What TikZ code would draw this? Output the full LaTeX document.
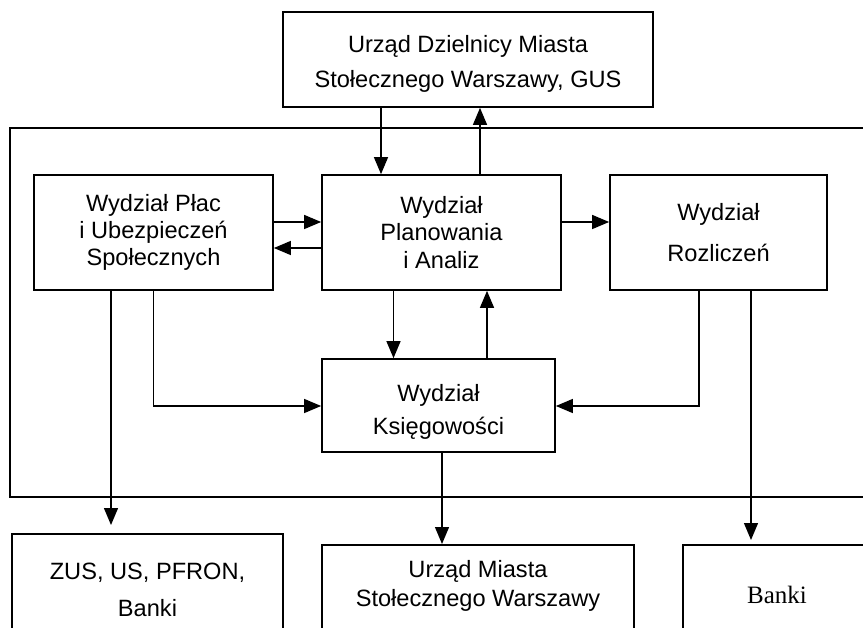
\documentclass[tikz,border=0pt]{standalone}
\usepackage{fontspec}
\setmainfont{Liberation Sans}
\newfontfamily\timesfont{Liberation Serif}
\usetikzlibrary{arrows.meta}
\tikzset{
  box/.style={draw, line width=1.7pt, inner sep=0pt, align=center},
  frame/.style={draw, line width=1.7pt},
  arr/.style={line width=1.3pt, -{Triangle[length=17pt,width=14pt]}},
  txt/.style={inner sep=0pt, align=center}
}
\begin{document}
\begin{tikzpicture}[x=1pt,y=-1pt]
\useasboundingbox (0,0) rectangle (863,628);
% outer frame (right side runs off the page)
\draw[frame] (880,128) -- (10,128) -- (10,497) -- (880,497);
% boxes
\node[box, minimum width=370pt, minimum height=95pt,
  label={[txt, yshift=-4pt, font={\fontsize{23.6pt}{35pt}\selectfont}]center:{Urząd Dzielnicy Miasta\\Stołecznego Warszawy, GUS}}] (top) at (468,59.5) {};
\node[box, minimum width=239pt, minimum height=115pt, font={\fontsize{23.6pt}{27pt}\selectfont}] (plac) at (153.5,232.5) {Wydział Płac\\i Ubezpieczeń\\Społecznych};
\node[box, minimum width=239pt, minimum height=115pt, font={\fontsize{23.6pt}{27.5pt}\selectfont}] (plan) at (441.5,232.5) {Wydział\\Planowania\\i Analiz};
\node[box, minimum width=217pt, minimum height=115pt, font={\fontsize{23.6pt}{41pt}\selectfont}] (rozl) at (718.5,232.5) {Wydział\\Rozliczeń};
\node[box, minimum width=233pt, minimum height=93pt,
  label={[txt, yshift=-6pt, font={\fontsize{23.6pt}{33pt}\selectfont}]center:{Wydział\\Księgowości}}] (ksieg) at (438.5,405.5) {};
% bottom boxes (lower part runs off the page)
\node[box, minimum width=271pt, minimum height=150pt, anchor=north] (zus) at (147.5,533) {};
\node[txt, font={\fontsize{23.6pt}{37pt}\selectfont}] (zust) at (147.5,589.5) {ZUS, US, PFRON,\\Banki};
\node[box, minimum width=312pt, minimum height=150pt, anchor=north] (um) at (478,544) {};
\node[txt, font={\fontsize{23.6pt}{29pt}\selectfont}] (umt) at (478,586) {Urząd Miasta\\Stołecznego Warszawy};
\node[box, minimum width=260pt, minimum height=150pt, anchor=north west] (banki) at (682,544) {};
\node[txt, font={\timesfont\fontsize{25pt}{30pt}\selectfont}] (bankit) at (777,595) {Banki};
% connectors
\draw[arr] (381,0 |- top.south) -- (381,0 |- plan.north);
\draw[arr] (480,0 |- plan.north) -- (480,0 |- top.south);
\draw[arr] (plac.east |- 0,222) -- (plan.west |- 0,222);
\draw[arr] (plan.west |- 0,248) -- (plac.east |- 0,248);
\draw[arr] (plan.east |- 0,222) -- (rozl.west |- 0,222);
\draw[arr] (393.5,0 |- plan.south) -- (393.5,0 |- ksieg.north);
\draw[arr] (487,0 |- ksieg.north) -- (487,0 |- plan.south);
\draw[arr] (153.5,0 |- plac.south) |- (ksieg.west |- 0,406);
\draw[arr] (699,0 |- rozl.south) |- (ksieg.east |- 0,406);
\draw[arr, shorten >=8pt] (111,0 |- plac.south) -- (111,0 |- zus.north);
\draw[arr] (442,0 |- ksieg.south) -- (442,0 |- um.north);
\draw[arr, shorten >=4pt] (751,0 |- rozl.south) -- (751,0 |- banki.north);
\end{tikzpicture}
\end{document}
